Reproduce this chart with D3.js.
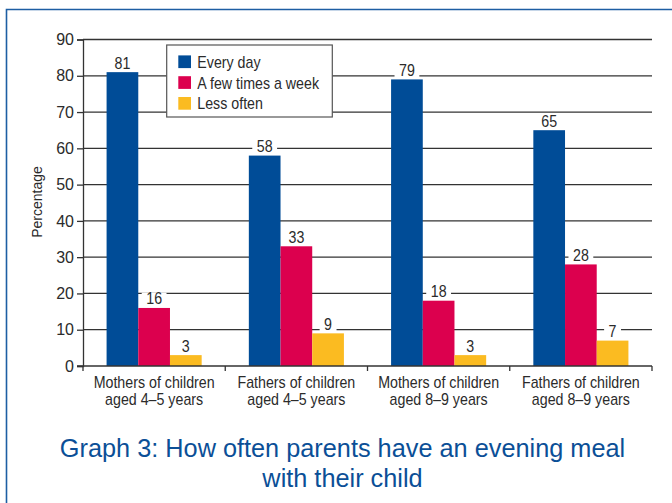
<!DOCTYPE html>
<html><head><meta charset="utf-8">
<script src="https://cdn.jsdelivr.net/npm/d3@7"></script>
<style>
html,body{margin:0;padding:0;background:#fff;}
svg{display:block;}
</style></head>
<body>
<svg id="chart" width="672" height="503"></svg>
<script>
const categories = [
  ["Mothers of children", "aged 4\u20135 years"],
  ["Fathers of children", "aged 4\u20135 years"],
  ["Mothers of children", "aged 8\u20139 years"],
  ["Fathers of children", "aged 8\u20139 years"]
];
const seriesNames = ["Every day", "A few times a week", "Less often"];
const everyDay = [81, 58, 79, 65];
const fewTimes = [16, 33, 18, 28];
const lessOften = [3, 9, 3, 7];
const yTicks = [0, 10, 20, 30, 40, 50, 60, 70, 80, 90];
const colors = ["#004c97", "#dc004e", "#fbbb21"];
const titleLines = ["Graph 3: How often parents have an evening meal", "with their child"];

const seriesValues = [everyDay, fewTimes, lessOften];
const sans = "'Liberation Sans', Arial, Helvetica, sans-serif";
const textCol = "#2b2b2b";
const SX = 0.89; // condensed look

const svg = d3.select("#chart");
const L = 83, R = 652, T = 39.5, B = 366;

// frame
svg.append("path").attr("d", `M6.5,503 L6.5,9.5 L672,9.5`)
  .attr("fill", "none").attr("stroke", "#1d5ea3").attr("stroke-width", 1.6);

const catIdx = categories.map((c, i) => i);
const x = d3.scaleBand().domain(catIdx).range([L, R]).paddingInner(0).paddingOuter(0);
const xs = d3.scaleBand().domain(d3.range(seriesNames.length)).range([0, x.bandwidth()]).paddingInner(0).paddingOuter(0.744);
const y = d3.scaleLinear().domain([0, 90]).range([B, T]);

// gridlines
svg.append("g").selectAll("line").data(yTicks.filter(d => d > 0)).join("line")
  .attr("x1", L).attr("x2", R).attr("y1", d => y(d)).attr("y2", d => y(d))
  .attr("stroke", "#333").attr("stroke-width", 1.3);

// y axis
const yAxis = svg.append("g").attr("transform", `translate(${L},0)`)
  .call(d3.axisLeft(y).tickValues(yTicks).tickSize(6).tickPadding(3));
yAxis.select(".domain").attr("stroke", "#333").attr("stroke-width", 1.3);
yAxis.selectAll(".tick line").attr("stroke", "#333").attr("stroke-width", 1.3);
yAxis.selectAll(".tick text").attr("font-family", sans).attr("font-size", 16).attr("fill", textCol);

// bars
const groups = svg.append("g").selectAll("g").data(catIdx).join("g")
  .attr("transform", i => `translate(${x(i)},0)`);
groups.selectAll("rect").data(i => seriesValues.map((s, k) => ({k, v: s[i]}))).join("rect")
  .attr("x", d => xs(d.k)).attr("width", xs.bandwidth())
  .attr("y", d => y(d.v)).attr("height", d => y(0) - y(d.v))
  .attr("fill", d => colors[d.k]);

// x axis
const xAxis = svg.append("g").attr("transform", `translate(0,${B})`);
xAxis.append("line").attr("x1", L - 6).attr("x2", R).attr("stroke", "#333").attr("stroke-width", 1.3);
xAxis.selectAll("line.t").data(catIdx.concat([categories.length])).join("line").attr("class", "t")
  .attr("x1", i => i < categories.length ? x(i) : R).attr("x2", i => i < categories.length ? x(i) : R)
  .attr("y1", 0).attr("y2", 5).attr("stroke", "#333").attr("stroke-width", 1.3);
xAxis.selectAll("text").data(catIdx).join("text")
  .attr("transform", i => `translate(${x(i) + x.bandwidth() / 2},22) scale(${SX},1)`)
  .attr("text-anchor", "middle").attr("font-family", sans).attr("font-size", 16).attr("fill", textCol)
  .selectAll("tspan").data(i => categories[i]).join("tspan")
  .attr("x", 0).attr("dy", (d, j) => j === 0 ? 0 : 17.5).text(d => d);

// value labels with white background
groups.each(function(i) {
  const g = d3.select(this);
  seriesValues.forEach((s, k) => {
    const cx = xs(k) + xs.bandwidth() / 2;
    const by = y(s[i]) - 3.5;
    const t = g.append("text").attr("transform", `translate(${cx},${by}) scale(${SX},1)`)
      .attr("text-anchor", "middle")
      .attr("font-family", sans).attr("font-size", 16).attr("fill", textCol).text(s[i]);
    const bb = t.node().getBBox();
    const w = bb.width * SX;
    g.insert("rect", () => t.node()).attr("x", cx - w / 2 - 4.5).attr("width", w + 9)
      .attr("y", by + bb.y + 3).attr("height", bb.height - 5).attr("fill", "#fff");
  });
});

// legend
const lg = svg.append("g").attr("transform", "translate(166.7,45)");
lg.append("rect").attr("width", 165.6).attr("height", 72).attr("fill", "#fff")
  .attr("stroke", "#555").attr("stroke-width", 1.2);
const items = lg.selectAll("g").data(seriesNames).join("g")
  .attr("transform", (d, k) => `translate(11.6,${16.7 + k * 20.8})`);
items.append("rect").attr("x", 0).attr("y", -6.3).attr("width", 12.7).attr("height", 12.7)
  .attr("fill", (d, k) => colors[k]);
items.append("text").attr("transform", `translate(19,6) scale(${SX},1)`)
  .attr("font-family", sans).attr("font-size", 16)
  .attr("fill", textCol).text(d => d);

// y title
svg.append("text").attr("transform", "translate(42,202) rotate(-90)").attr("text-anchor", "middle")
  .attr("font-family", sans).attr("font-size", 14).attr("fill", textCol).text("Percentage");

// title
svg.append("g").selectAll("text").data(titleLines).join("text")
  .attr("x", 342.5).attr("y", (d, j) => 457.3 + j * 29.4).attr("text-anchor", "middle")
  .attr("font-family", sans).attr("font-size", 25.3).attr("fill", "#0b4f97").text(d => d);
</script>
</body></html>
